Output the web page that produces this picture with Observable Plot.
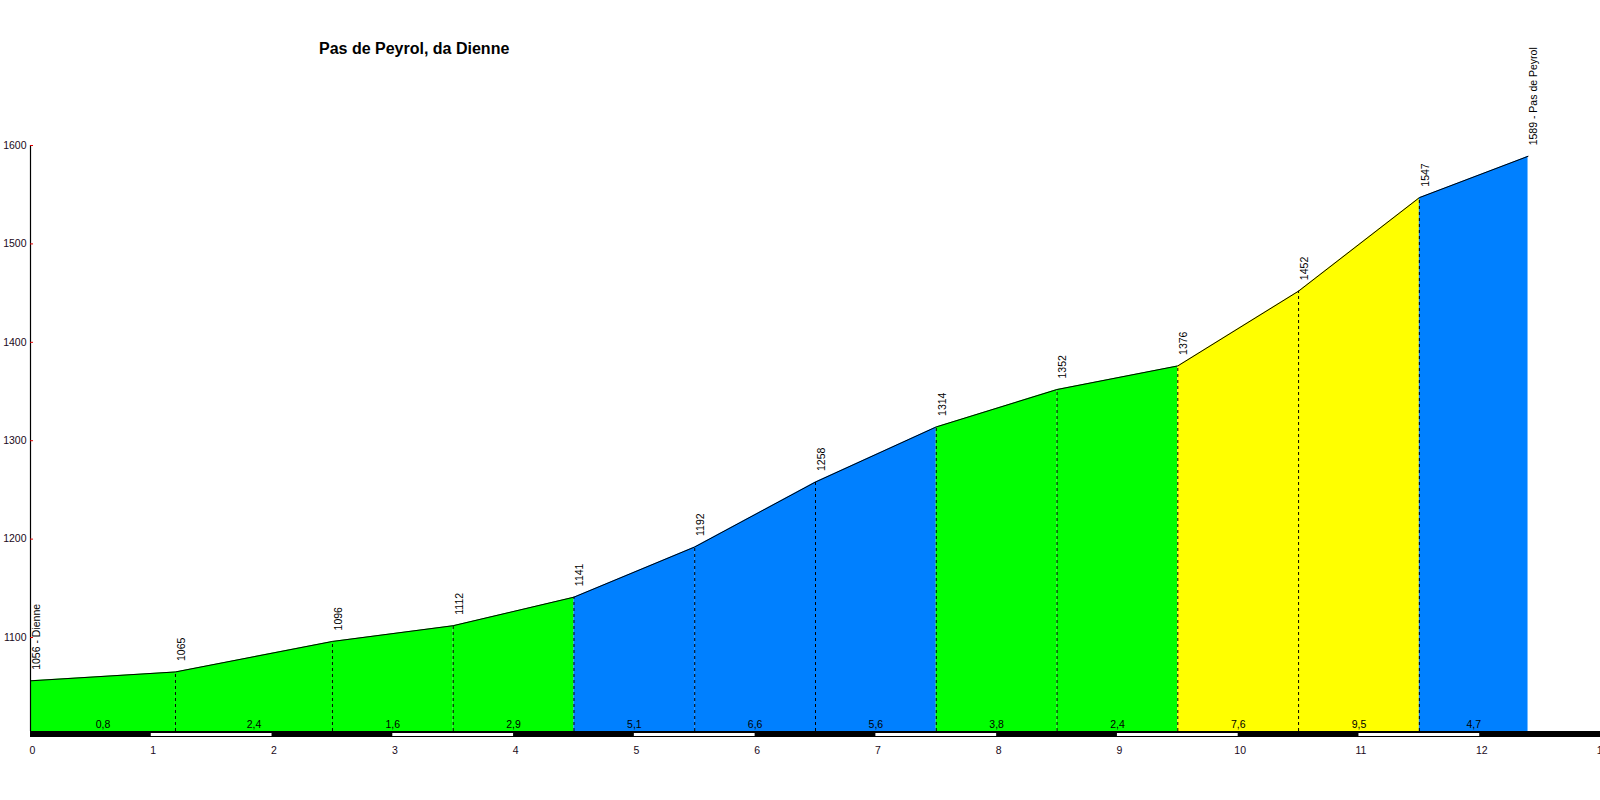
<!DOCTYPE html>
<html>
<head>
<meta charset="utf-8">
<script src="https://cdn.jsdelivr.net/npm/d3@7"></script>
<script src="https://cdn.jsdelivr.net/npm/@observablehq/plot@0.6"></script>
<style>
  html, body { margin: 0; padding: 0; background: #fff; }
  #wrap { position: relative; width: 1600px; height: 800px; overflow: hidden; }
  #title { position: absolute; left: 319px; top: 41px; font: bold 16px "Liberation Sans", Arial, sans-serif; line-height: 16px; color: #000; white-space: nowrap; }
  #chart { position: absolute; left: 0; top: 0; }
</style>
</head>
<body>
<div id="wrap">
  <div id="chart"></div>
  <div id="title">Pas de Peyrol, da Dienne</div>
</div>
<script>
// ---- data ----
const distances  = [0, 1.2, 2.5, 3.5, 4.5, 5.5, 6.5, 7.5, 8.5, 9.5, 10.5, 11.5, 12.4];
const elevations = [1056, 1065, 1096, 1112, 1141, 1192, 1258, 1314, 1352, 1376, 1452, 1547, 1589];
const gradients  = ["0,8", "2,4", "1,6", "2,9", "5,1", "6,6", "5,6", "3,8", "2,4", "7,6", "9,5", "4,7"];
const segmentColors = ["#00ff00", "#00ff00", "#00ff00", "#00ff00", "#0080ff", "#0080ff", "#0080ff",
                       "#00ff00", "#00ff00", "#ffff00", "#ffff00", "#0080ff"];
const startName = "Dienne";
const endName = "Pas de Peyrol";
const yTicks = [1100, 1200, 1300, 1400, 1500, 1600];
const xTicks = [0, 1, 2, 3, 4, 5, 6, 7, 8, 9, 10, 11, 12, 13];
const yMin = 1004.5;
const yMax = 1600;
const xMax = 13;

// ---- derived tables ----
const points = distances.map((d, i) => ({
  km: d,
  ele: elevations[i],
  label: i === 0 ? `${elevations[i]} - ${startName}`
       : i === distances.length - 1 ? `${elevations[i]} - ${endName}`
       : `${elevations[i]}`
}));
const areaRows = [];
gradients.forEach((g, i) => {
  areaRows.push({seg: i, km: distances[i], ele: elevations[i], color: segmentColors[i]});
  areaRows.push({seg: i, km: distances[i + 1], ele: elevations[i + 1], color: segmentColors[i]});
});
const segments = gradients.map((g, i) => ({mid: (distances[i] + distances[i + 1]) / 2, text: g}));
const interior = points.slice(1, -1);
const kmBlocks = xTicks.slice(0, -1).map(k => ({k0: k, k1: k + 1, odd: k % 2 === 1}));

const chart = Plot.plot({
  width: 1600,
  height: 800,
  margin: 0,
  x: {domain: [0, xMax], range: [30, 1600], axis: null},
  y: {domain: [yMin, yMax], range: [731, 145], axis: null},
  style: {fontFamily: "'Liberation Sans', Arial, sans-serif", fontSize: "10.5px", background: "#fff", color: "#000"},
  marks: [
    Plot.areaY(areaRows, {x: "km", y1: yMin, y2: "ele", z: "seg", fill: "color"}),
    Plot.line(points, {x: "km", y: "ele", stroke: "#000", strokeWidth: 1}),
    Plot.ruleX(interior, {x: "km", y1: yMin, y2: "ele", stroke: "#000", strokeWidth: 1, strokeDasharray: "3,3"}),
    // y axis
    Plot.ruleX([0], {y1: yMin, y2: yMax, stroke: "#000", strokeWidth: 1.2}),
    Plot.ruleY(yTicks, {y: d => d, x1: 0, x2: 0.025, stroke: "#e00000", strokeWidth: 1}),
    Plot.text(yTicks, {x: 0, y: d => d, text: d => String(d), textAnchor: "end", dx: -4, fill: "#1a0a1a", fontSize: 10.5}),
    // distance bar
    Plot.rect([{k0: 0, k1: xMax}], {x1: "k0", x2: "k1", y1: yMin, y2: yMin, insetBottom: -6, fill: "#000"}),
    Plot.rect(kmBlocks.filter(d => d.odd), {x1: "k0", x2: "k1", y1: yMin, y2: yMin, insetTop: 2, insetBottom: -5, fill: "#fff"}),
    Plot.text(xTicks, {x: d => d, y: yMin, text: d => String(d), dx: 2, dy: 19, fill: "#1a0a1a", fontSize: 10.5}),
    // gradients
    Plot.text(segments, {x: "mid", y: yMin, text: "text", dy: -7, fill: "#000", fontSize: 10.5}),
    // elevation labels
    Plot.text(points, {x: "km", y: "ele", text: "label", rotate: -90, textAnchor: "start", dx: 6, dy: -11, fill: "#000", fontSize: 10.5})
  ]
});
document.getElementById("chart").appendChild(chart);
</script>
</body>
</html>
